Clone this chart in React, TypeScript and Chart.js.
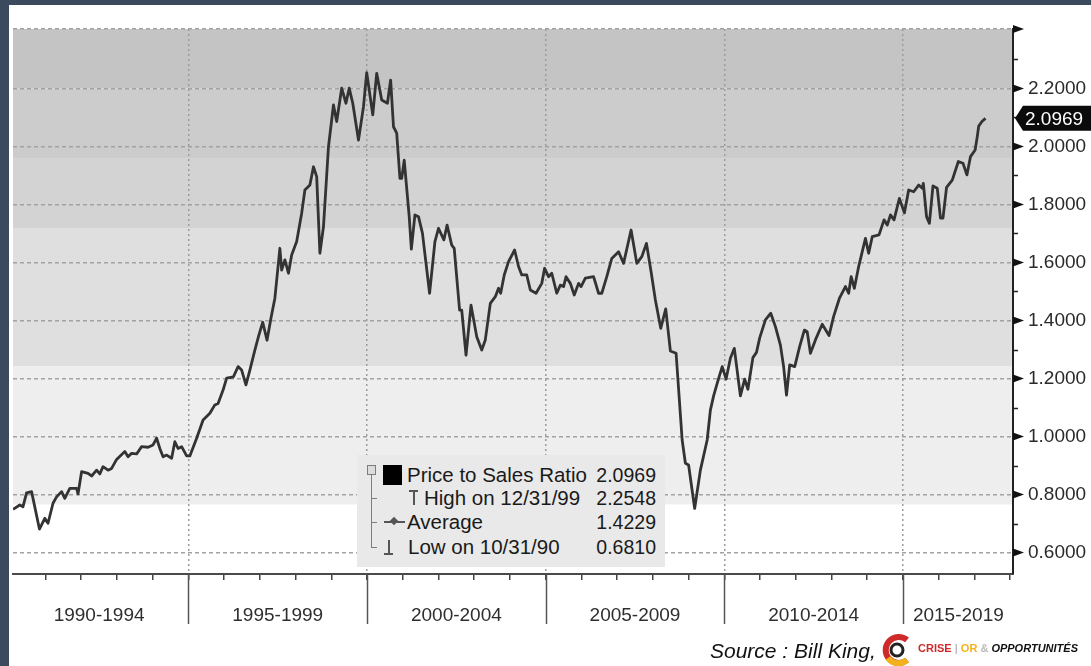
import React, { useEffect, useRef } from 'react';
import { Chart, registerables } from 'chart.js';

Chart.register(...registerables);

// ---- data ----
const years = [
  1990.09, 1990.28, 1990.37, 1990.47, 1990.61, 1990.83, 1990.98, 1991.07, 1991.21, 1991.31,
  1991.45, 1991.54, 1991.68, 1991.87, 1991.91, 1992.01, 1992.19, 1992.29, 1992.43, 1992.52,
  1992.61, 1992.75, 1992.85, 1992.99, 1993.22, 1993.31, 1993.41, 1993.55, 1993.69, 1993.87,
  1994.01, 1994.11, 1994.2, 1994.29, 1994.39, 1994.53, 1994.62, 1994.71, 1994.81, 1994.95,
  1995.04, 1995.23, 1995.41, 1995.6, 1995.74, 1995.83, 1995.97, 1996.07, 1996.26, 1996.39,
  1996.49, 1996.61, 1996.72, 1996.86, 1996.97, 1997.08, 1997.2, 1997.31, 1997.42, 1997.56,
  1997.61, 1997.7, 1997.8, 1997.89, 1998.03, 1998.17, 1998.26, 1998.4, 1998.5, 1998.59,
  1998.68, 1998.78, 1998.92, 1999.06, 1999.15, 1999.29, 1999.41, 1999.5, 1999.6, 1999.76,
  1999.9, 1999.99, 2000.16, 2000.27, 2000.41, 2000.57, 2000.66, 2000.74, 2000.83, 2000.92,
  2000.97, 2001.04, 2001.18, 2001.24, 2001.34, 2001.44, 2001.55, 2001.75, 2001.9, 2002.0,
  2002.15, 2002.24, 2002.37, 2002.44, 2002.59, 2002.65, 2002.77, 2002.91, 2003.07, 2003.21,
  2003.31, 2003.45, 2003.59, 2003.68, 2003.74, 2003.84, 2003.96, 2004.13, 2004.24, 2004.33,
  2004.47, 2004.57, 2004.73, 2004.89, 2004.97, 2005.08, 2005.17, 2005.31, 2005.41, 2005.5,
  2005.57, 2005.69, 2005.8, 2005.92, 2005.99, 2006.11, 2006.34, 2006.48, 2006.57, 2006.71,
  2006.85, 2007.04, 2007.18, 2007.39, 2007.55, 2007.69, 2007.82, 2007.95, 2008.07, 2008.22,
  2008.36, 2008.49, 2008.65, 2008.82, 2008.91, 2009.0, 2009.17, 2009.33, 2009.52, 2009.61,
  2009.7, 2009.8, 2009.94, 2010.05, 2010.17, 2010.28, 2010.45, 2010.57, 2010.66, 2010.8,
  2010.9, 2010.99, 2011.15, 2011.3, 2011.43, 2011.57, 2011.66, 2011.74, 2011.83, 2011.97,
  2012.11, 2012.24, 2012.32, 2012.41, 2012.55, 2012.74, 2012.93, 2013.06, 2013.22, 2013.39,
  2013.48, 2013.55, 2013.64, 2013.76, 2013.95, 2014.04, 2014.14, 2014.33, 2014.47, 2014.56,
  2014.65, 2014.75, 2014.9, 2015.04, 2015.16, 2015.3, 2015.44, 2015.54, 2015.57, 2015.66,
  2015.74, 2015.84, 2015.96, 2016.05, 2016.12, 2016.22, 2016.38, 2016.55, 2016.68, 2016.79,
  2016.89, 2017.02, 2017.08, 2017.12, 2017.21, 2017.31,
];

const ratio = [
  0.749, 0.764, 0.758, 0.806, 0.81, 0.681, 0.718, 0.701, 0.77, 0.792,
  0.81, 0.787, 0.821, 0.821, 0.802, 0.879, 0.873, 0.864, 0.884, 0.871,
  0.896, 0.884, 0.89, 0.921, 0.948, 0.93, 0.942, 0.94, 0.965, 0.963,
  0.971, 0.994, 0.959, 0.93, 0.936, 0.925, 0.982, 0.959, 0.965, 0.933,
  0.933, 0.994, 1.057, 1.08, 1.109, 1.114, 1.16, 1.201, 1.206, 1.241,
  1.229, 1.178, 1.229, 1.298, 1.349, 1.394, 1.332, 1.408, 1.477, 1.649,
  1.574, 1.609, 1.563, 1.626, 1.672, 1.77, 1.85, 1.867, 1.93, 1.896,
  1.632, 1.723, 1.999, 2.143, 2.086, 2.201, 2.149, 2.201, 2.149, 2.022,
  2.137, 2.2548, 2.109, 2.252, 2.16, 2.149, 2.229, 2.068, 2.046, 1.89,
  1.89, 1.953, 1.758, 1.646, 1.764, 1.758, 1.701, 1.494, 1.672, 1.718,
  1.678, 1.729, 1.66, 1.649, 1.436, 1.436, 1.281, 1.453, 1.344, 1.298,
  1.333, 1.459, 1.482, 1.511, 1.494, 1.557, 1.603, 1.643, 1.586, 1.557,
  1.557, 1.505, 1.494, 1.528, 1.58, 1.551, 1.563, 1.494, 1.522, 1.517,
  1.551, 1.528, 1.488, 1.528, 1.517, 1.546, 1.551, 1.494, 1.494, 1.551,
  1.614, 1.637, 1.597, 1.712, 1.597, 1.62, 1.666, 1.568, 1.471, 1.373,
  1.44, 1.295, 1.287, 0.988, 0.908, 0.902, 0.752, 0.884, 0.988, 1.091,
  1.14, 1.183, 1.241, 1.198, 1.27, 1.304, 1.14, 1.198, 1.163, 1.272,
  1.29, 1.34, 1.402, 1.425, 1.379, 1.315, 1.241, 1.143, 1.247, 1.241,
  1.311, 1.367, 1.361, 1.287, 1.333, 1.387, 1.348, 1.414, 1.476, 1.517,
  1.494, 1.551, 1.511, 1.586, 1.683, 1.632, 1.689, 1.695, 1.747, 1.729,
  1.764, 1.747, 1.821, 1.771, 1.85, 1.844, 1.867, 1.856, 1.873, 1.758,
  1.735, 1.864, 1.856, 1.753, 1.753, 1.859, 1.884, 1.948, 1.942, 1.902,
  1.965, 1.988, 2.034, 2.07, 2.086, 2.0969,
];

const periodLabels = ['1990-1994', '1995-1999', '2000-2004', '2005-2009', '2010-2014', '2015-2019'];
const periodCenters = [1992.5, 1997.5, 2002.5, 2007.5, 2012.5, 2016.55];
const dividerYears = [1995, 2000, 2005, 2010, 2015];
const yearTicks = [
  1991, 1992, 1993, 1994, 1995, 1996, 1997, 1998, 1999, 2000, 2001, 2002, 2003, 2004,
  2005, 2006, 2007, 2008, 2009, 2010, 2011, 2012, 2013, 2014, 2015, 2016, 2017, 2018,
];
const xMin = 1990.09;
const xMax = 2018.08;

const yMajor = [0.6, 0.8, 1.0, 1.2, 1.4, 1.6, 1.8, 2.0, 2.2];
const yMinor = [0.7, 0.9, 1.1, 1.3, 1.5, 1.7, 1.9, 2.1, 2.3];
const yMin = 0.526;
const yMax = 2.405;

const bandEdges = [2.405, 2.2, 1.96, 1.719, 1.243, 0.766];
const bandColors = ['#c4c4c4', '#cccccc', '#d3d3d3', '#dfdfdf', '#eeeeee'];

const legendLabels = ['Price to Sales Ratio', 'High on 12/31/99', 'Average', 'Low on 10/31/90'];
const legendValues = ['2.0969', '2.2548', '1.4229', '0.6810'];

const FONT = '"Liberation Sans", Arial, sans-serif';

const decorPlugin = {
  id: 'decor',
  beforeDraw(chart: any) {
    const { ctx, chartArea: a, scales } = chart;
    const y = scales.y;
    ctx.save();
    for (let i = 0; i < bandColors.length; i++) {
      const top = y.getPixelForValue(bandEdges[i]);
      const bot = y.getPixelForValue(bandEdges[i + 1]);
      ctx.fillStyle = bandColors[i];
      ctx.fillRect(a.left, top, a.right - a.left, bot - top);
    }
    ctx.restore();
  },
  afterDraw(chart: any) {
    const { ctx, chartArea: a, scales } = chart;
    const x = scales.x;
    const y = scales.y;
    ctx.save();
    // long period dividers below the time axis
    ctx.strokeStyle = '#555';
    ctx.lineWidth = 1.5;
    for (const v of dividerYears) {
      const px = Math.round(x.getPixelForValue(v)) + 0.5;
      ctx.beginPath();
      ctx.moveTo(px, a.bottom);
      ctx.lineTo(px, a.bottom + 50);
      ctx.stroke();
    }
    // minor ticks on the value axis
    ctx.strokeStyle = '#222';
    ctx.lineWidth = 1.5;
    for (const v of yMinor) {
      const py = Math.round(y.getPixelForValue(v)) + 0.5;
      ctx.beginPath();
      ctx.moveTo(a.right, py);
      ctx.lineTo(a.right + 5, py);
      ctx.stroke();
    }
    // triangular major ticks
    ctx.fillStyle = '#111';
    for (const v of [...yMajor, yMax]) {
      const py = y.getPixelForValue(v);
      ctx.beginPath();
      ctx.moveTo(a.right, py - 4);
      ctx.lineTo(a.right + 11, py);
      ctx.lineTo(a.right, py + 4);
      ctx.closePath();
      ctx.fill();
    }
    // last value badge
    const last = ratio[ratio.length - 1];
    const py = y.getPixelForValue(last);
    ctx.fillStyle = '#0b0b0b';
    ctx.beginPath();
    ctx.moveTo(a.right + 2, py);
    ctx.lineTo(a.right + 10, py - 12.5);
    ctx.lineTo(chart.width, py - 12.5);
    ctx.lineTo(chart.width, py + 12.5);
    ctx.lineTo(a.right + 10, py + 12.5);
    ctx.closePath();
    ctx.fill();
    ctx.fillStyle = '#ffffff';
    ctx.font = '19px ' + FONT;
    ctx.textBaseline = 'middle';
    ctx.textAlign = 'left';
    ctx.fillText(last.toFixed(4), a.right + 12, py + 1);
    ctx.restore();
  },
};

function ChartCanvas() {
  const ref = useRef<HTMLCanvasElement | null>(null);
  useEffect(() => {
    if (!ref.current) return;
    const chart = new Chart(ref.current, {
      type: 'line',
      data: {
        datasets: [
          {
            label: 'Price to Sales Ratio',
            data: years.map((yr, i) => ({ x: yr, y: ratio[i] })),
            borderColor: '#333333',
            borderWidth: 2.8,
            pointRadius: 0,
            tension: 0,
            fill: false,
            borderJoinStyle: 'round',
          },
        ],
      },
      options: {
        responsive: false,
        animation: false,
        devicePixelRatio: 1,
        layout: { padding: { left: 13, top: 29, right: 0, bottom: 0 } },
        plugins: { legend: { display: false }, tooltip: { enabled: false } },
        scales: {
          x: {
            type: 'linear',
            position: 'bottom',
            min: xMin,
            max: xMax,
            afterBuildTicks: (s: any) => {
              const vals = [...yearTicks, ...periodCenters].sort((p, q) => p - q);
              s.ticks = vals.map((v) => ({ value: v }));
            },
            afterFit: (s: any) => {
              s.height = 92;
            },
            grid: {
              display: true,
              drawOnChartArea: true,
              drawTicks: true,
              tickLength: 6,
              lineWidth: 1.5,
              color: (c: any) =>
                c.tick && dividerYears.includes(c.tick.value) ? '#9c9c9c' : 'rgba(0,0,0,0)',
              tickColor: (c: any) =>
                c.tick && yearTicks.includes(c.tick.value) ? '#444' : 'rgba(0,0,0,0)',
              tickWidth: 1.5,
            },
            border: { display: true, color: '#4a4a4a', width: 2, dash: [2, 3] },
            ticks: {
              autoSkip: false,
              maxRotation: 0,
              minRotation: 0,
              padding: 24,
              color: '#2e2e2e',
              font: { family: FONT, size: 19 },
              callback: (v: any) => {
                const idx = periodCenters.indexOf(Number(v));
                return idx >= 0 ? periodLabels[idx] : '';
              },
            },
          },
          y: {
            type: 'linear',
            position: 'right',
            min: yMin,
            max: yMax,
            afterBuildTicks: (s: any) => {
              const vals = [...yMajor, ...yMinor, yMax].sort((p, q) => p - q);
              s.ticks = vals.map((v) => ({ value: v }));
            },
            afterFit: (s: any) => {
              s.width = 78;
            },
            grid: {
              display: true,
              drawOnChartArea: true,
              drawTicks: true,
              tickLength: 9,
              lineWidth: 1.6,
              color: (c: any) =>
                c.tick && (yMajor.includes(c.tick.value) || c.tick.value === yMax)
                  ? '#a2a2a2'
                  : 'rgba(0,0,0,0)',
              tickColor: 'rgba(0,0,0,0)',
            },
            border: { display: true, color: '#222', width: 2, dash: [4, 3] },
            ticks: {
              autoSkip: false,
              padding: 6,
              color: '#2a2a2a',
              font: { family: FONT, size: 19 },
              callback: (v: any) => (yMajor.includes(Number(v)) ? Number(v).toFixed(4) : ''),
            },
          },
        },
      },
      plugins: [decorPlugin],
    } as any);
    return () => {
      chart.destroy();
    };
  }, []);
  return (
    <canvas
      ref={ref}
      width={1091}
      height={666}
      style={{ position: 'absolute', left: 0, top: 0, width: 1091, height: 666 }}
    />
  );
}

const rowCenters = [475, 498, 522, 547];
const rowTextLeft = [407, 424, 407, 408];

function Legend() {
  const grey = '#7d7d7d';
  return (
    <div>
      <div
        style={{
          position: 'absolute',
          left: 357,
          top: 455,
          width: 308,
          height: 112,
          background: '#e9e9e9',
        }}
      />
      {/* tree connector */}
      <div style={{ position: 'absolute', left: 367, top: 465, width: 7, height: 8, border: `1px solid ${grey}`, background: '#dcdcdc' }} />
      <div style={{ position: 'absolute', left: 371, top: 475, width: 1, height: 73, background: grey }} />
      <div style={{ position: 'absolute', left: 371, top: 498, width: 6, height: 1, background: grey }} />
      <div style={{ position: 'absolute', left: 371, top: 522, width: 6, height: 1, background: grey }} />
      <div style={{ position: 'absolute', left: 371, top: 547, width: 6, height: 1, background: grey }} />
      {/* series swatch */}
      <div style={{ position: 'absolute', left: 383, top: 465, width: 19, height: 20, background: '#000' }} />
      {/* high marker */}
      <div style={{ position: 'absolute', left: 409, top: 490, width: 9, height: 2, background: '#555' }} />
      <div style={{ position: 'absolute', left: 413, top: 490, width: 1.5, height: 15, background: '#555' }} />
      {/* average marker */}
      <div style={{ position: 'absolute', left: 384, top: 521, width: 21, height: 1.5, background: '#555' }} />
      <div style={{ position: 'absolute', left: 391, top: 518, width: 6, height: 6, background: '#555', transform: 'rotate(45deg)' }} />
      {/* low marker */}
      <div style={{ position: 'absolute', left: 388, top: 540, width: 1.5, height: 14, background: '#555' }} />
      <div style={{ position: 'absolute', left: 384, top: 553, width: 9, height: 2, background: '#555' }} />
      {legendLabels.map((t, i) => (
        <div
          key={t}
          style={{
            position: 'absolute',
            left: rowTextLeft[i],
            top: rowCenters[i] - 12,
            height: 24,
            lineHeight: '24px',
            fontFamily: FONT,
            fontSize: 20.5,
            color: '#1a1a1a',
            whiteSpace: 'nowrap',
          }}
        >
          {t}
        </div>
      ))}
      {legendValues.map((t, i) => (
        <div
          key={t}
          style={{
            position: 'absolute',
            right: 1091 - 656,
            top: rowCenters[i] - 12,
            height: 24,
            lineHeight: '24px',
            fontFamily: FONT,
            fontSize: 19.5,
            color: '#1a1a1a',
            whiteSpace: 'nowrap',
            textAlign: 'right',
          }}
        >
          {t}
        </div>
      ))}
    </div>
  );
}

function Source() {
  return (
    <div>
      <div
        style={{
          position: 'absolute',
          left: 710,
          top: 638,
          height: 26,
          lineHeight: '26px',
          fontFamily: FONT,
          fontStyle: 'italic',
          fontSize: 21,
          color: '#111',
          whiteSpace: 'nowrap',
        }}
      >
        Source : Bill King,
      </div>
      <svg
        width={34}
        height={34}
        viewBox="0 0 34 34"
        style={{ position: 'absolute', left: 880, top: 633 }}
      >
        <path d="M 27 7 A 13 13 0 1 0 27 27" fill="none" stroke="#cf2a2a" strokeWidth={6} />
        <path d="M 8 25 A 13 13 0 0 0 27 27" fill="none" stroke="#f2b21b" strokeWidth={6} />
        <circle cx={17} cy={17} r={6} fill="#fff" stroke="#222" strokeWidth={3} />
      </svg>
      <div
        style={{
          position: 'absolute',
          left: 918,
          top: 641,
          height: 14,
          lineHeight: '14px',
          fontFamily: FONT,
          fontWeight: 700,
          fontSize: 11,
          whiteSpace: 'nowrap',
        }}
      >
        <span style={{ color: '#cf2a2a' }}>CRISE</span>
        <span style={{ color: '#bbb' }}> | </span>
        <span style={{ color: '#f2b21b' }}>OR</span>
        <span style={{ color: '#bbb' }}> &amp; </span>
        <span style={{ color: '#111', fontStyle: 'italic' }}>OPPORTUNITÉS</span>
      </div>
    </div>
  );
}

export default function App() {
  return (
    <div
      style={{
        position: 'fixed',
        left: 0,
        top: 0,
        width: 1091,
        height: 666,
        background: '#ffffff',
        overflow: 'hidden',
      }}
    >
      <ChartCanvas />
      <div style={{ position: 'absolute', left: 0, top: 0, width: 9, height: 666, background: '#3c4a5d' }} />
      <div style={{ position: 'absolute', left: 0, top: 0, width: 1091, height: 5, background: '#3c4a5d' }} />
      <Legend />
      <Source />
    </div>
  );
}
